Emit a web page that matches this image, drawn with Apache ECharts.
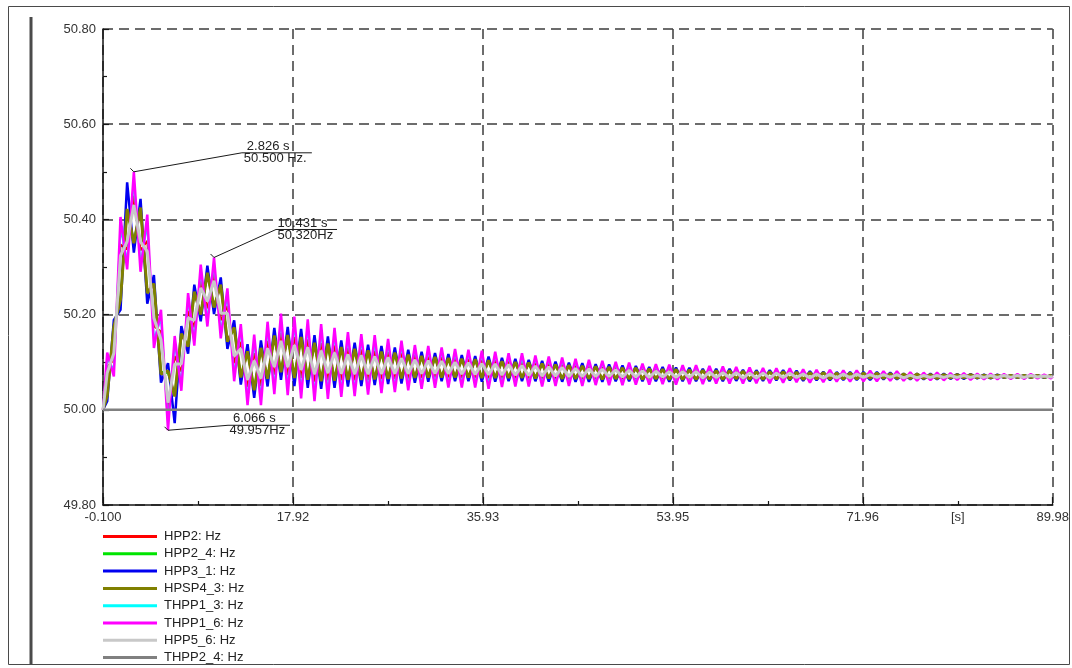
<!DOCTYPE html>
<html>
<head>
<meta charset="utf-8">
<title>Frequency [Hz]</title>
<script src="https://cdn.jsdelivr.net/npm/echarts@6/dist/echarts.min.js"></script>
<style>
  html, body { margin: 0; padding: 0; background: #ffffff; }
  #chart { width: 1072px; height: 668px; }
</style>
</head>
<body>
<div id="chart"></div>
<script>
// Recording starts at -0.100 s; the axis counts seconds from that instant.
const T_START = -0.1;
const T_END = 89.98;

// Sample instants [s] (turning points of the swing)
const timeS = [
  -0.10, 0.30, 0.93, 1.56, 2.19, 2.826, 3.46, 4.10, 4.73, 5.40, 6.066, 6.70,
  7.33, 7.97, 8.56, 9.17, 9.80, 10.431, 11.07, 11.70, 12.34, 12.97, 13.61, 14.24,
  14.88, 15.51, 16.15, 16.78, 17.42, 18.05, 18.69, 19.32, 19.96, 20.59, 21.23, 21.86,
  22.50, 23.13, 23.77, 24.40, 25.04, 25.67, 26.31, 26.94, 27.58, 28.21, 28.85, 29.48,
  30.12, 30.75, 31.39, 32.02, 32.66, 33.29, 33.93, 34.56, 35.20, 35.83, 36.47, 37.10,
  37.74, 38.37, 39.01, 39.64, 40.28, 40.91, 41.55, 42.18, 42.82, 43.45, 44.09, 44.72,
  45.36, 45.99, 46.63, 47.26, 47.90, 48.53, 49.17, 49.80, 50.44, 51.07, 51.71, 52.34,
  52.98, 53.61, 54.25, 54.88, 55.52, 56.15, 56.79, 57.42, 58.06, 58.69, 59.33, 59.96,
  60.60, 61.23, 61.87, 62.50, 63.14, 63.77, 64.41, 65.04, 65.68, 66.31, 66.95, 67.58,
  68.22, 68.85, 69.49, 70.12, 70.76, 71.39, 72.03, 72.66, 73.30, 73.93, 74.57, 75.20,
  75.84, 76.47, 77.11, 77.74, 78.38, 79.01, 79.65, 80.28, 80.92, 81.55, 82.19, 82.82,
  83.46, 84.09, 84.73, 85.36, 86.00, 86.63, 87.27, 87.90, 88.54, 89.17, 89.81, 89.98
];

// Frequency [Hz] per unit, same instants as timeS
const hpp2Hz = [
  50.000, 50.090, 50.105, 50.347, 50.337, 50.450, 50.335, 50.355, 50.175, 50.165, 49.999, 50.113,
  50.080, 50.208, 50.173, 50.270, 50.213, 50.285, 50.188, 50.218, 50.098, 50.143, 50.048, 50.119,
  50.050, 50.145, 50.074, 50.161, 50.073, 50.153, 50.067, 50.148, 50.059, 50.140, 50.062, 50.135,
  50.062, 50.130, 50.062, 50.127, 50.063, 50.124, 50.064, 50.121, 50.065, 50.119, 50.066, 50.115,
  50.067, 50.112, 50.068, 50.110, 50.068, 50.108, 50.067, 50.107, 50.067, 50.105, 50.066, 50.104,
  50.066, 50.102, 50.066, 50.100, 50.066, 50.098, 50.065, 50.097, 50.065, 50.095, 50.065, 50.093,
  50.064, 50.092, 50.065, 50.090, 50.065, 50.089, 50.064, 50.088, 50.065, 50.086, 50.064, 50.086,
  50.065, 50.085, 50.064, 50.084, 50.064, 50.084, 50.064, 50.083, 50.064, 50.082, 50.064, 50.082,
  50.064, 50.081, 50.064, 50.080, 50.064, 50.080, 50.065, 50.080, 50.065, 50.078, 50.064, 50.078,
  50.064, 50.078, 50.065, 50.077, 50.065, 50.077, 50.066, 50.077, 50.066, 50.076, 50.066, 50.076,
  50.066, 50.075, 50.066, 50.074, 50.066, 50.074, 50.066, 50.074, 50.066, 50.074, 50.066, 50.073,
  50.067, 50.073, 50.067, 50.073, 50.067, 50.073, 50.067, 50.073, 50.068, 50.072, 50.068, 50.070
];
const hpp2_4Hz = [
  50.000, 50.033, 50.171, 50.238, 50.418, 50.355, 50.420, 50.250, 50.260, 50.080, 50.077, 50.032,
  50.156, 50.136, 50.244, 50.204, 50.284, 50.219, 50.259, 50.146, 50.169, 50.071, 50.119, 50.045,
  50.126, 50.069, 50.152, 50.083, 50.153, 50.071, 50.149, 50.067, 50.137, 50.064, 50.135, 50.065,
  50.129, 50.066, 50.125, 50.066, 50.122, 50.067, 50.119, 50.068, 50.117, 50.068, 50.114, 50.069,
  50.111, 50.070, 50.108, 50.070, 50.106, 50.070, 50.105, 50.069, 50.104, 50.069, 50.102, 50.068,
  50.100, 50.068, 50.098, 50.068, 50.097, 50.068, 50.095, 50.067, 50.094, 50.067, 50.092, 50.066,
  50.091, 50.066, 50.090, 50.065, 50.088, 50.066, 50.087, 50.066, 50.086, 50.065, 50.085, 50.066,
  50.084, 50.065, 50.083, 50.065, 50.083, 50.065, 50.082, 50.064, 50.081, 50.065, 50.081, 50.065,
  50.080, 50.064, 50.079, 50.065, 50.079, 50.065, 50.079, 50.065, 50.078, 50.065, 50.077, 50.065,
  50.077, 50.065, 50.076, 50.066, 50.076, 50.066, 50.076, 50.066, 50.076, 50.066, 50.076, 50.066,
  50.074, 50.066, 50.074, 50.066, 50.074, 50.066, 50.074, 50.067, 50.073, 50.067, 50.073, 50.067,
  50.073, 50.067, 50.073, 50.068, 50.072, 50.068, 50.072, 50.068, 50.072, 50.068, 50.072, 50.070
];
const hpp3_1Hz = [
  50.000, 50.018, 50.189, 50.210, 50.478, 50.330, 50.443, 50.223, 50.283, 50.057, 50.098, 49.972,
  50.176, 50.118, 50.263, 50.186, 50.303, 50.201, 50.278, 50.128, 50.188, 50.053, 50.138, 50.025,
  50.146, 50.049, 50.172, 50.063, 50.174, 50.050, 50.170, 50.046, 50.157, 50.044, 50.154, 50.046,
  50.146, 50.049, 50.141, 50.050, 50.137, 50.052, 50.134, 50.054, 50.131, 50.055, 50.126, 50.057,
  50.122, 50.059, 50.119, 50.060, 50.117, 50.060, 50.115, 50.060, 50.113, 50.059, 50.112, 50.059,
  50.109, 50.060, 50.107, 50.060, 50.105, 50.060, 50.103, 50.059, 50.101, 50.059, 50.099, 50.059,
  50.098, 50.059, 50.096, 50.059, 50.095, 50.060, 50.093, 50.060, 50.092, 50.060, 50.090, 50.060,
  50.090, 50.059, 50.089, 50.060, 50.088, 50.060, 50.086, 50.060, 50.086, 50.060, 50.086, 50.061,
  50.084, 50.060, 50.083, 50.061, 50.083, 50.062, 50.083, 50.062, 50.082, 50.061, 50.081, 50.062,
  50.080, 50.062, 50.079, 50.063, 50.079, 50.063, 50.079, 50.063, 50.079, 50.064, 50.078, 50.064,
  50.076, 50.064, 50.076, 50.064, 50.076, 50.064, 50.076, 50.065, 50.075, 50.065, 50.075, 50.066,
  50.074, 50.066, 50.074, 50.067, 50.073, 50.067, 50.073, 50.067, 50.073, 50.067, 50.073, 50.070
];
const hpsp4_3Hz = [
  50.000, 50.030, 50.175, 50.232, 50.422, 50.350, 50.425, 50.245, 50.265, 50.075, 50.082, 50.028,
  50.160, 50.133, 50.248, 50.200, 50.288, 50.215, 50.263, 50.143, 50.173, 50.068, 50.123, 50.041,
  50.130, 50.065, 50.156, 50.079, 50.157, 50.067, 50.153, 50.063, 50.141, 50.060, 50.139, 50.061,
  50.132, 50.063, 50.128, 50.063, 50.125, 50.064, 50.122, 50.065, 50.120, 50.066, 50.116, 50.067,
  50.113, 50.068, 50.111, 50.068, 50.109, 50.068, 50.107, 50.068, 50.106, 50.067, 50.104, 50.067,
  50.102, 50.067, 50.100, 50.067, 50.099, 50.066, 50.097, 50.066, 50.095, 50.065, 50.094, 50.065,
  50.092, 50.065, 50.091, 50.064, 50.090, 50.065, 50.088, 50.065, 50.088, 50.064, 50.086, 50.065,
  50.085, 50.064, 50.085, 50.064, 50.084, 50.064, 50.083, 50.064, 50.082, 50.064, 50.082, 50.065,
  50.081, 50.064, 50.080, 50.064, 50.080, 50.065, 50.080, 50.065, 50.079, 50.064, 50.078, 50.065,
  50.078, 50.065, 50.077, 50.065, 50.077, 50.065, 50.077, 50.066, 50.077, 50.066, 50.076, 50.066,
  50.075, 50.066, 50.075, 50.066, 50.074, 50.066, 50.074, 50.067, 50.074, 50.067, 50.074, 50.067,
  50.073, 50.067, 50.073, 50.068, 50.072, 50.068, 50.072, 50.068, 50.072, 50.068, 50.072, 50.070
];
const thpp1_3Hz = [
  50.000, 50.108, 50.084, 50.382, 50.312, 50.480, 50.308, 50.388, 50.148, 50.192, 49.974, 50.138,
  50.056, 50.230, 50.150, 50.291, 50.190, 50.306, 50.165, 50.240, 50.075, 50.165, 50.025, 50.142,
  50.026, 50.169, 50.049, 50.186, 50.048, 50.179, 50.041, 50.173, 50.034, 50.164, 50.038, 50.157,
  50.041, 50.150, 50.042, 50.146, 50.044, 50.142, 50.047, 50.138, 50.048, 50.134, 50.051, 50.129,
  50.053, 50.125, 50.055, 50.123, 50.055, 50.120, 50.055, 50.118, 50.055, 50.116, 50.055, 50.115,
  50.055, 50.112, 50.056, 50.109, 50.056, 50.108, 50.055, 50.106, 50.056, 50.104, 50.056, 50.101,
  50.056, 50.100, 50.057, 50.098, 50.057, 50.096, 50.057, 50.094, 50.058, 50.093, 50.057, 50.092,
  50.058, 50.091, 50.057, 50.090, 50.058, 50.090, 50.058, 50.088, 50.059, 50.087, 50.059, 50.087,
  50.058, 50.086, 50.059, 50.085, 50.059, 50.084, 50.060, 50.084, 50.061, 50.082, 50.060, 50.081,
  50.061, 50.081, 50.061, 50.081, 50.061, 50.081, 50.062, 50.080, 50.062, 50.079, 50.063, 50.079,
  50.063, 50.077, 50.063, 50.076, 50.064, 50.076, 50.064, 50.076, 50.064, 50.076, 50.064, 50.075,
  50.065, 50.075, 50.065, 50.074, 50.066, 50.074, 50.066, 50.074, 50.067, 50.073, 50.067, 50.070
];
const thpp1_6Hz = [
  50.000, 50.120, 50.070, 50.405, 50.295, 50.500, 50.290, 50.410, 50.130, 50.210, 49.957, 50.155,
  50.040, 50.245, 50.135, 50.305, 50.175, 50.320, 50.150, 50.255, 50.060, 50.180, 50.010, 50.158,
  50.010, 50.185, 50.033, 50.202, 50.031, 50.196, 50.024, 50.190, 50.018, 50.180, 50.023, 50.172,
  50.027, 50.163, 50.029, 50.159, 50.032, 50.157, 50.035, 50.149, 50.037, 50.145, 50.041, 50.136,
  50.044, 50.134, 50.046, 50.131, 50.047, 50.128, 50.047, 50.126, 50.047, 50.124, 50.044, 50.122,
  50.048, 50.119, 50.049, 50.119, 50.049, 50.114, 50.049, 50.112, 50.050, 50.110, 50.050, 50.107,
  50.050, 50.105, 50.052, 50.103, 50.052, 50.101, 50.052, 50.099, 50.053, 50.097, 50.053, 50.096,
  50.054, 50.095, 50.053, 50.094, 50.054, 50.094, 50.054, 50.092, 50.055, 50.091, 50.055, 50.090,
  50.055, 50.089, 50.056, 50.088, 50.056, 50.087, 50.057, 50.087, 50.058, 50.085, 50.057, 50.084,
  50.058, 50.084, 50.059, 50.083, 50.059, 50.083, 50.060, 50.082, 50.060, 50.081, 50.061, 50.081,
  50.061, 50.079, 50.061, 50.078, 50.062, 50.078, 50.062, 50.077, 50.063, 50.077, 50.063, 50.076,
  50.064, 50.076, 50.064, 50.075, 50.065, 50.075, 50.065, 50.075, 50.066, 50.074, 50.066, 50.070
];
const hpp5_6Hz = [
  50.000, 50.078, 50.119, 50.324, 50.354, 50.430, 50.353, 50.333, 50.193, 50.147, 50.015, 50.096,
  50.096, 50.193, 50.188, 50.256, 50.228, 50.271, 50.203, 50.203, 50.113, 50.128, 50.063, 50.103,
  50.066, 50.129, 50.090, 50.145, 50.090, 50.136, 50.084, 50.131, 50.075, 50.124, 50.077, 50.120,
  50.076, 50.116, 50.075, 50.114, 50.075, 50.112, 50.076, 50.110, 50.076, 50.108, 50.076, 50.105,
  50.076, 50.103, 50.076, 50.102, 50.076, 50.100, 50.075, 50.099, 50.074, 50.097, 50.074, 50.096,
  50.073, 50.095, 50.073, 50.093, 50.072, 50.092, 50.071, 50.090, 50.071, 50.089, 50.070, 50.087,
  50.070, 50.086, 50.070, 50.085, 50.070, 50.084, 50.069, 50.083, 50.069, 50.082, 50.068, 50.081,
  50.069, 50.080, 50.068, 50.080, 50.068, 50.080, 50.067, 50.079, 50.068, 50.078, 50.068, 50.078,
  50.067, 50.077, 50.067, 50.077, 50.067, 50.077, 50.068, 50.077, 50.068, 50.075, 50.067, 50.075,
  50.067, 50.075, 50.067, 50.075, 50.067, 50.075, 50.068, 50.074, 50.068, 50.074, 50.068, 50.074,
  50.067, 50.073, 50.067, 50.072, 50.068, 50.072, 50.068, 50.072, 50.068, 50.072, 50.068, 50.072,
  50.068, 50.072, 50.068, 50.072, 50.068, 50.072, 50.068, 50.072, 50.069, 50.071, 50.069, 50.070
];
// THPP2_4 stays flat at nominal frequency over the record
const thpp2_4Time = [-0.10, 89.98];
const thpp2_4Hz = [50.000, 50.000];

const seriesNames = ['HPP2: Hz', 'HPP2_4: Hz', 'HPP3_1: Hz', 'HPSP4_3: Hz',
                     'THPP1_3: Hz', 'THPP1_6: Hz', 'HPP5_6: Hz', 'THPP2_4: Hz'];
const seriesColors = ['#ff0000', '#00e400', '#0000f0', '#808000',
                      '#00ffff', '#ff00ff', '#c8c8c8', '#808080'];
const seriesWidths = [2, 2, 2.5, 3, 2, 2.5, 3, 2.5];

// Axis tick labels
const xTickTimes = [-0.1, 17.916, 35.932, 53.948, 71.964, 80.972, 89.98];
const xTickLabels = ['-0.100', '17.92', '35.93', '53.95', '71.96', '[s]', '89.98'];
const yTickLabels = ['49.80', '50.00', '50.20', '50.40', '50.60', '50.80'];

// Cursor readouts on THPP1_6
const cursorTimes = [2.826, 10.431, 6.066];
const cursorTimeText = ['2.826 s', '10.431 s', '6.066 s'];
const cursorFreqText = ['50.500 Hz.', '50.320Hz', '49.957Hz'];

const FONT = '"Liberation Sans", Arial, Helvetica, sans-serif';

function toPairs(times, values) {
  return times.map((t, i) => [t - T_START, values[i]]);
}

const columns = [hpp2Hz, hpp2_4Hz, hpp3_1Hz, hpsp4_3Hz, thpp1_3Hz, thpp1_6Hz, hpp5_6Hz];
const lineSeries = columns.map((vals, i) => ({
  name: seriesNames[i],
  type: 'line',
  data: toPairs(timeS, vals),
  showSymbol: false,
  symbol: 'none',
  lineStyle: { color: seriesColors[i], width: seriesWidths[i] },
  itemStyle: { color: seriesColors[i] },
  z: 2
}));
lineSeries.push({
  name: seriesNames[7],
  type: 'line',
  data: toPairs(thpp2_4Time, thpp2_4Hz),
  showSymbol: false,
  symbol: 'none',
  lineStyle: { color: seriesColors[7], width: seriesWidths[7] },
  itemStyle: { color: seriesColors[7] },
  z: 2
});

const gridDash = { color: '#3c3c3c', width: 1.5, type: [10, 6] };
const axisInk = '#151515';

const chart = echarts.init(document.getElementById('chart'), null, { renderer: 'canvas' });
chart.setOption({
  backgroundColor: '#ffffff',
  animation: false,
  grid: { left: 103, right: 15, top: 29, bottom: 163, containLabel: false },
  legend: {
    orient: 'vertical',
    left: 103,
    top: 529,
    height: 139,
    padding: 0,
    icon: 'rect',
    itemWidth: 54,
    itemHeight: 3,
    itemGap: 2.3,
    selectedMode: false,
    data: seriesNames,
    textStyle: { fontSize: 13, fontFamily: FONT, color: '#222', lineHeight: 15, padding: [0, 0, 0, 2] }
  },
  xAxis: {
    type: 'value',
    min: 0,
    max: T_END - T_START,
    interval: 18.016,
    axisLine: { show: true, onZero: false, lineStyle: { color: axisInk, width: 1.5 } },
    axisTick: { show: true, inside: true, length: 8, lineStyle: { color: axisInk, width: 1.2 } },
    minorTick: { show: true, splitNumber: 2, length: 4, lineStyle: { color: axisInk, width: 1.2 } },
    axisLabel: {
      customValues: xTickTimes.map(t => t - T_START),
      formatter: function (v) {
        let best = 0;
        xTickTimes.forEach((t, i) => {
          if (Math.abs(t - T_START - v) < Math.abs(xTickTimes[best] - T_START - v)) best = i;
        });
        return xTickLabels[best];
      },
      margin: 6,
      fontSize: 13,
      fontFamily: FONT,
      color: '#333'
    },
    splitLine: { show: true, lineStyle: gridDash }
  },
  yAxis: {
    type: 'value',
    min: 49.8,
    max: 50.8,
    interval: 0.2,
    axisLine: { show: true, lineStyle: { color: axisInk, width: 1.5 } },
    axisTick: { show: true, inside: true, length: 6, lineStyle: { color: axisInk, width: 1.2 } },
    minorTick: { show: true, splitNumber: 2, length: 4, lineStyle: { color: axisInk, width: 1.2 } },
    axisLabel: {
      formatter: (v, i) => yTickLabels[i],
      margin: 7,
      fontSize: 13,
      fontFamily: FONT,
      color: '#333'
    },
    splitLine: { show: true, lineStyle: gridDash }
  },
  series: lineSeries
});

// Cursor readouts: leader from the sample on THPP1_6 to an underlined time / frequency pair
const leaderLayout = [
  { dx: 108, dy: -19, len: 70, timeDx: 5, freqDx: 2 },
  { dx: 62, dy: -28, len: 61, timeDx: 1.5, freqDx: 1.5 },
  { dx: 60, dy: -5, len: 62, timeDx: 5, freqDx: 1.5 }
];
const graphics = [];
cursorTimes.forEach((t, k) => {
  const idx = timeS.indexOf(t);
  const p = chart.convertToPixel({ xAxisIndex: 0, yAxisIndex: 0 }, [timeS[idx] - T_START, thpp1_6Hz[idx]]);
  const L = leaderLayout[k];
  const ex = p[0] + L.dx, ey = p[1] + L.dy;
  graphics.push({
    type: 'polyline',
    z: 100,
    shape: { points: [[p[0] - 3.5, p[1] - 3.5], [p[0], p[1]], [ex, ey], [ex + L.len, ey]] },
    style: { stroke: '#1a1a1a', lineWidth: 1, fill: null }
  });
  graphics.push({
    type: 'text', z: 100, x: ex + L.timeDx, y: ey,
    style: { text: cursorTimeText[k], font: '13px ' + FONT, fill: '#222', align: 'left', verticalAlign: 'bottom' }
  });
  graphics.push({
    type: 'text', z: 100, x: ex + L.freqDx, y: ey - 1,
    style: { text: cursorFreqText[k], font: '13px ' + FONT, fill: '#222', align: 'left', verticalAlign: 'top' }
  });
});

// Panel frame
graphics.push({
  type: 'rect', z: 100, silent: true,
  shape: { x: 8.5, y: 6.5, width: 1061, height: 658 },
  style: { fill: null, stroke: '#4a4a4a', lineWidth: 1 }
});
graphics.push({
  type: 'line', z: 100, silent: true,
  shape: { x1: 31, y1: 17, x2: 31, y2: 665 },
  style: { stroke: '#4a4a4a', lineWidth: 3 }
});

chart.setOption({ graphic: graphics });
</script>
</body>
</html>
